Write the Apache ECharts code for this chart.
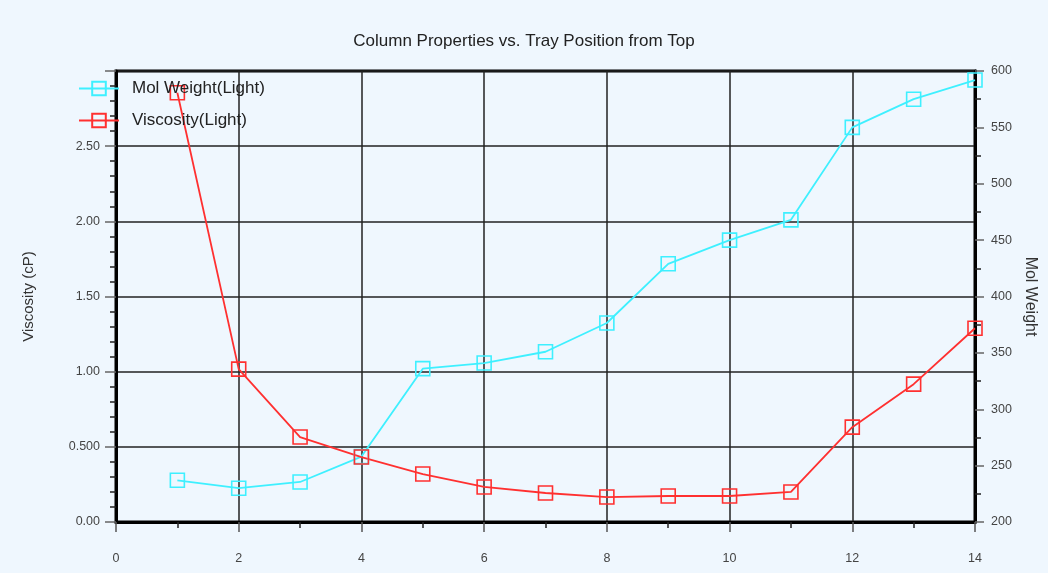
<!DOCTYPE html>
<html>
<head>
<meta charset="utf-8">
<script src="https://cdn.jsdelivr.net/npm/echarts@6/dist/echarts.min.js"></script>
<style>
  html, body { margin: 0; padding: 0; background: #eff7fe; }
  #chart { width: 1048px; height: 573px; }
</style>
</head>
<body>
<div id="chart"></div>
<script>
// Tray positions (x axis)
const trays = [1, 2, 3, 4, 5, 6, 7, 8, 9, 10, 11, 12, 13, 14];
// Mol Weight (Light), right axis
const molWeight = [237, 230, 235.5, 258, 336, 341, 351, 376.5, 429, 450, 468, 550, 575, 592];
// Viscosity (Light) in cP, left axis
const viscosity = [2.855, 1.017, 0.565, 0.432, 0.319, 0.233, 0.193, 0.166, 0.173, 0.173, 0.2, 0.631, 0.917, 1.289];
// Left axis tick labels as printed on the original
const viscTickLabels = { 0: '0.00', 0.5: '0.500', 1: '1.00', 1.5: '1.50', 2: '2.00', 2.5: '2.50' };

const chart = echarts.init(document.getElementById('chart'));

const labelFont = { color: '#444', fontSize: 12.5, fontFamily: 'Liberation Sans' };

const option = {
  backgroundColor: '#eff7fe',
  animation: false,
  title: {
    text: 'Column Properties vs. Tray Position from Top',
    left: 'center',
    top: 28,
    textStyle: { color: '#222', fontSize: 17, fontWeight: 'normal', fontFamily: 'Liberation Sans' }
  },
  legend: {
    orient: 'vertical',
    left: 73,
    top: 75,
    itemWidth: 40,
    itemHeight: 17,
    itemGap: 15,
    textStyle: { color: '#222', fontSize: 17, fontFamily: 'Liberation Sans', padding: [0, 0, 0, 8] },
    data: ['Mol Weight(Light)', 'Viscosity(Light)']
  },
  grid: {
    left: 116, right: 73, top: 71, bottom: 51,
    show: true,
    borderColor: '#000',
    borderWidth: 3,
    backgroundColor: '#eff7fe'
  },
  xAxis: {
    type: 'value',
    min: 0, max: 14, interval: 2,
    axisLine: { show: true, lineStyle: { color: '#000', width: 3 } },
    axisTick: { show: true, length: 10, lineStyle: { color: '#555', width: 1.5 } },
    minorTick: { show: true, splitNumber: 2, length: 6, lineStyle: { color: '#222', width: 1.5 } },
    axisLabel: Object.assign({ margin: 30 }, labelFont),
    splitLine: { show: true, lineStyle: { color: '#222', width: 1.5 } }
  },
  yAxis: [
    {
      type: 'value',
      name: 'Viscosity (cP)',
      nameLocation: 'middle',
      nameRotate: 90,
      nameGap: 80,
      nameTextStyle: { color: '#333', fontSize: 15, fontFamily: 'Liberation Sans' },
      min: 0, max: 3, interval: 0.5,
      axisLine: { show: true, lineStyle: { color: '#000', width: 3 } },
      axisTick: { show: true, length: 11, lineStyle: { color: '#666', width: 1.5 } },
      minorTick: { show: true, splitNumber: 5, length: 6, lineStyle: { color: '#222', width: 1.5 } },
      axisLabel: Object.assign({
        margin: 16,
        formatter: v => (viscTickLabels[v] !== undefined ? viscTickLabels[v] : '')
      }, labelFont),
      splitLine: { show: true, lineStyle: { color: '#222', width: 1.5 } }
    },
    {
      type: 'value',
      name: 'Mol Weight',
      nameLocation: 'middle',
      nameRotate: -90,
      nameGap: 46,
      nameTextStyle: { color: '#333', fontSize: 16, fontFamily: 'Liberation Sans' },
      position: 'right',
      min: 200, max: 600, interval: 50,
      axisLine: { show: true, lineStyle: { color: '#000', width: 3 } },
      axisTick: { show: true, length: 9, lineStyle: { color: '#666', width: 1.5 } },
      minorTick: { show: true, splitNumber: 2, length: 6, lineStyle: { color: '#222', width: 1.5 } },
      axisLabel: Object.assign({ margin: 16 }, labelFont),
      splitLine: { show: false }
    }
  ],
  series: [
    {
      name: 'Mol Weight(Light)',
      type: 'line',
      yAxisIndex: 1,
      data: trays.map((t, i) => [t, molWeight[i]]),
      symbol: 'rect',
      symbolSize: 14,
      lineStyle: { color: '#3ef0ff', width: 1.8 },
      itemStyle: { color: 'rgba(0,0,0,0)', borderColor: '#3ef0ff', borderWidth: 1.6 }
    },
    {
      name: 'Viscosity(Light)',
      type: 'line',
      yAxisIndex: 0,
      data: trays.map((t, i) => [t, viscosity[i]]),
      symbol: 'rect',
      symbolSize: 14,
      lineStyle: { color: '#ff3030', width: 1.8 },
      itemStyle: { color: 'rgba(0,0,0,0)', borderColor: '#ff3030', borderWidth: 1.6 }
    }
  ]
};

chart.setOption(option);
window.addEventListener('resize', () => chart.resize());
</script>
</body>
</html>
